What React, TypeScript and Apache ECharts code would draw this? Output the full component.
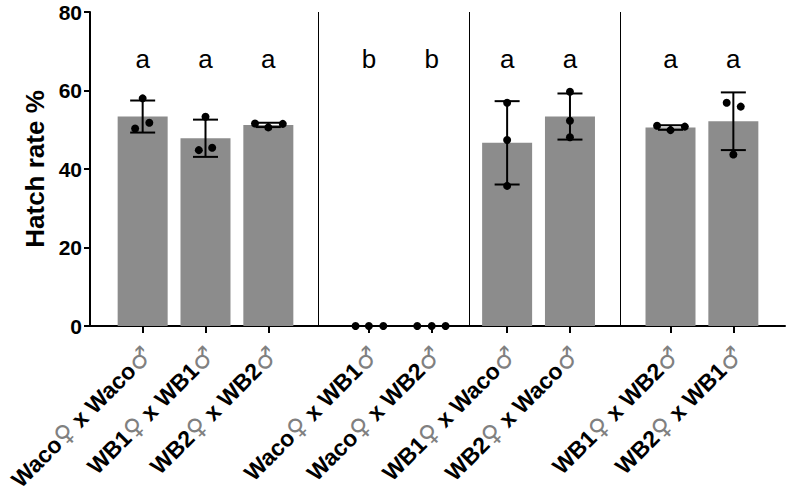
import React, { useEffect, useRef } from "react";
import * as echarts from "echarts";

// ---- data ----
const categories = [
  "Waco♀ x Waco♂",
  "WB1♀ x WB1♂",
  "WB2♀ x WB2♂",
  "Waco♀ x WB1♂",
  "Waco♀ x WB2♂",
  "WB1♀ x Waco♂",
  "WB2♀ x Waco♂",
  "WB1♀ x WB2♂",
  "WB2♀ x WB1♂",
];
// replicate hatch rates (%) per cross
const replicates = [
  [58.0, 50.3, 51.8],
  [53.3, 44.8, 45.4],
  [51.6, 50.6, 51.5],
  [0, 0, 0],
  [0, 0, 0],
  [56.9, 47.4, 35.7],
  [59.7, 52.3, 48.1],
  [51.0, 49.9, 50.8],
  [56.9, 55.9, 43.7],
];
const sigLetters = ["a", "a", "a", "b", "b", "a", "a", "a", "a"];
const yTicks = [0, 20, 40, 60, 80];

// ---- layout (not data) ----
const slotPos = [0, 5, 10, 18, 23, 29, 34, 42, 47];
const groupEnds = [2, 4, 6];
const jitter = [
  [0, -0.6, 0.53],
  [0, -0.53, 0.53],
  [-1.06, 0, 1.15],
  [-1.06, 0, 1.15],
  [-1.15, 0, 1.1],
  [0, 0, 0],
  [0, 0, 0],
  [-1.07, 0, 1.14],
  [-0.53, 0.59, 0],
];
const letterY = 68;

function mean(a: number[]) {
  return a.reduce((s, v) => s + v, 0) / a.length;
}
function sd(a: number[]) {
  const m = mean(a);
  return Math.sqrt(a.reduce((s, v) => s + (v - m) * (v - m), 0) / (a.length - 1));
}

export default function App() {
  const ref = useRef<HTMLDivElement>(null);
  useEffect(() => {
    document.body.style.margin = "0";
    const chart = echarts.init(ref.current!, null, { renderer: "svg" });
    const means = replicates.map(mean);
    const sds = replicates.map(sd);
    const separators = groupEnds.map((i) => ({ xAxis: (slotPos[i] + slotPos[i + 1]) / 2 }));
    const labelMap: Record<string, string> = {};
    slotPos.forEach((p, i) => {
      labelMap[String(p)] = categories[i];
    });
    const font = "'Liberation Sans', Arial, sans-serif";

    chart.setOption({
      animation: false,
      grid: {
        left: 90,
        right: 5,
        top: 12,
        bottom: 166,
        containLabel: false,
        outerBoundsMode: "none",
      },
      xAxis: {
        type: "value",
        min: -4.19,
        max: 51.11,
        splitLine: { show: false },
        axisLine: { show: true, onZero: false, lineStyle: { color: "#000", width: 2 } },
        axisTick: {
          show: true,
          customValues: slotPos,
          length: 7,
          lineStyle: { color: "#000", width: 2 },
        },
        axisLabel: {
          show: true,
          customValues: slotPos,
          rotate: 45,
          margin: 20,
          padding: [14, 0, 0, 0],
          color: "#000",
          fontWeight: "bold",
          fontSize: 23,
          fontFamily: font,
          formatter: (v: number) => {
            const s = labelMap[String(v)] || "";
            return s.replace(/♀/g, "{s|♀}").replace(/♂/g, "{s|♂}");
          },
          rich: {
            s: {
              color: "#808080",
              fontWeight: "normal",
              fontSize: 25,
              fontFamily: "'DejaVu Sans', sans-serif",
            },
          },
        },
      },
      yAxis: {
        type: "value",
        min: 0,
        max: 80,
        interval: 20,
        name: "Hatch rate %",
        nameLocation: "middle",
        nameGap: 41,
        nameTextStyle: { color: "#000", fontSize: 26, fontWeight: "bold", fontFamily: font },
        splitLine: { show: false },
        axisLine: { show: true, onZero: false, lineStyle: { color: "#000", width: 2 } },
        axisTick: { show: true, length: 6, lineStyle: { color: "#000", width: 2 } },
        axisLabel: {
          color: "#000",
          fontSize: 21,
          fontWeight: "bold",
          fontFamily: font,
          margin: 8,
          customValues: yTicks,
        },
      },
      series: [
        {
          type: "bar",
          barWidth: 50,
          data: slotPos.map((p, i) => [p, means[i]]),
          itemStyle: { color: "#8c8c8c" },
          z: 1,
          markLine: {
            silent: true,
            symbol: ["none", "none"],
            label: { show: false },
            lineStyle: { color: "#000", width: 1, type: "solid" },
            data: separators,
          },
        },
        {
          type: "custom",
          z: 3,
          data: slotPos.map((p, i) => [p, means[i] - sds[i], means[i] + sds[i]]),
          renderItem: (params: any, api: any) => {
            const x = api.value(0);
            const lo = api.coord([x, api.value(1)]);
            const hi = api.coord([x, api.value(2)]);
            const hw = 12.5;
            const st = { stroke: "#000", lineWidth: 2 };
            return {
              type: "group",
              children: [
                { type: "line", shape: { x1: lo[0], y1: lo[1], x2: hi[0], y2: hi[1] }, style: st },
                { type: "line", shape: { x1: hi[0] - hw, y1: hi[1], x2: hi[0] + hw, y2: hi[1] }, style: st },
                { type: "line", shape: { x1: lo[0] - hw, y1: lo[1], x2: lo[0] + hw, y2: lo[1] }, style: st },
              ],
            };
          },
        },
        {
          type: "scatter",
          z: 4,
          symbolSize: 8,
          itemStyle: { color: "#000", opacity: 1 },
          data: replicates.flatMap((reps, i) => reps.map((v, j) => [slotPos[i] + jitter[i][j], v])),
        },
        {
          type: "scatter",
          z: 5,
          symbolSize: 0,
          silent: true,
          itemStyle: { opacity: 1 },
          data: slotPos.map((p, i) => ({ value: [p, letterY], name: sigLetters[i] })),
          label: {
            show: true,
            position: "inside",
            formatter: (p: any) => p.name,
            color: "#000",
            fontSize: 26,
            fontFamily: font,
          },
        },
      ],
    });
    return () => chart.dispose();
  }, []);
  return <div ref={ref} style={{ width: 790, height: 492 }} />;
}
